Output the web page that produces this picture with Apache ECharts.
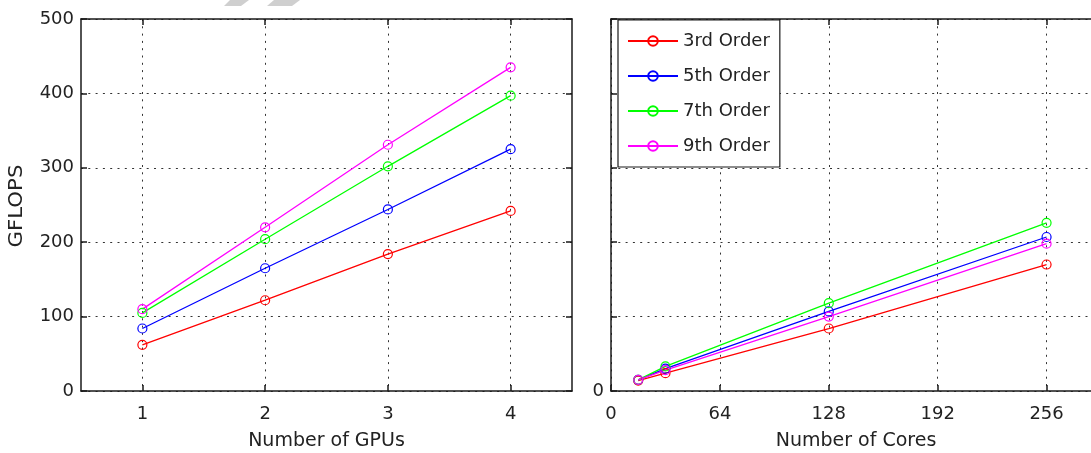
<!DOCTYPE html>
<html>
<head>
<meta charset="utf-8">
<script src="https://cdn.jsdelivr.net/npm/echarts@6/dist/echarts.min.js"></script>
<style>
  html, body { margin: 0; padding: 0; background: #fff; overflow: hidden; }
  #chart { width: 1091px; height: 453px; }
</style>
</head>
<body>
<div id="chart"></div>
<script>
// ---- data ----
const seriesNames = ['3rd Order', '5th Order', '7th Order', '9th Order'];
const seriesColors = ['#ff0000', '#0000ff', '#00ff00', '#ff00ff'];

const gpuCounts = [1, 2, 3, 4];
const gpu3rd = [62, 122, 184, 242];
const gpu5th = [84, 165, 244, 325];
const gpu7th = [105, 204, 302, 397];
const gpu9th = [110, 220, 331, 435];

const coreCounts = [16, 32, 128, 256];
const core3rd = [14, 24, 84, 170];
const core5th = [15, 30, 107, 207];
const core7th = [15, 33, 118, 226];
const core9th = [15, 28, 100, 198];

const gpuTicks = [1, 2, 3, 4];
const yTitle = 'GFLOPS';

const gpuData = [gpu3rd, gpu5th, gpu7th, gpu9th];
const coreData = [core3rd, core5th, core7th, core9th];

// ---- styles ----
const FONT = 'DejaVu Sans';
const axisColor = '#1a1a1a';
const textColor = '#222';
const gridLine = { show: true, lineStyle: { color: '#333', width: 1, type: [2, 5.3] } };

function mirrorAxis(base, extra) {
  return Object.assign({}, base, {
    axisLabel: { show: false },
    splitLine: { show: false },
    name: ''
  }, extra);
}

const grids = [
  { left: 81, top: 19, width: 491, height: 372, outerBoundsMode: 'none', containLabel: false },
  { left: 611, top: 19, width: 490, height: 372, outerBoundsMode: 'none', containLabel: false }
];

const xBase0 = {
  type: 'value', gridIndex: 0, min: 0.5, max: 4.5,
  axisLine: { show: true, onZero: false, lineStyle: { color: axisColor, width: 1.5 } },
  axisTick: { show: true, inside: true, length: 6, customValues: gpuTicks, lineStyle: { color: axisColor, width: 1.5 } },
  axisLabel: { customValues: gpuTicks, fontFamily: FONT, fontSize: 18, color: textColor, margin: 14 },
  splitLine: gridLine,
  name: 'Number of GPUs', nameLocation: 'middle', nameGap: 41,
  nameTextStyle: { fontFamily: FONT, fontSize: 19, color: textColor }
};
const xBase1 = {
  type: 'value', gridIndex: 1, min: 0, max: 288, interval: 64,
  axisLine: { show: true, onZero: false, lineStyle: { color: axisColor, width: 1.5 } },
  axisTick: { show: true, inside: true, length: 6, lineStyle: { color: axisColor, width: 1.5 } },
  axisLabel: { fontFamily: FONT, fontSize: 18, color: textColor, margin: 14, showMaxLabel: false },
  splitLine: gridLine,
  name: 'Number of Cores', nameLocation: 'middle', nameGap: 41,
  nameTextStyle: { fontFamily: FONT, fontSize: 19, color: textColor }
};
const yBase0 = {
  type: 'value', gridIndex: 0, min: 0, max: 500, interval: 100,
  axisLine: { show: true, onZero: false, lineStyle: { color: axisColor, width: 1.5 } },
  axisTick: { show: true, inside: true, length: 6, lineStyle: { color: axisColor, width: 1.5 } },
  axisLabel: { fontFamily: FONT, fontSize: 18, color: textColor, margin: 7 },
  splitLine: gridLine
};
const yBase1 = {
  type: 'value', gridIndex: 1, min: 0, max: 500, interval: 100,
  axisLine: { show: true, onZero: false, lineStyle: { color: axisColor, width: 1.5 } },
  axisTick: { show: true, inside: true, length: 6, lineStyle: { color: axisColor, width: 1.5 } },
  axisLabel: { fontFamily: FONT, fontSize: 18, color: textColor, margin: 7,
               formatter: v => (v === 0 ? '0' : '') },
  splitLine: gridLine
};

const xAxes = [
  Object.assign({ position: 'bottom' }, xBase0),
  mirrorAxis(xBase0, { position: 'top' }),
  Object.assign({ position: 'bottom' }, xBase1),
  mirrorAxis(xBase1, { position: 'top' })
];
const yAxes = [
  Object.assign({ position: 'left' }, yBase0),
  mirrorAxis(yBase0, { position: 'right' }),
  Object.assign({ position: 'left' }, yBase1),
  mirrorAxis(yBase1, { position: 'right' })
];

function makeSeries(xs, ys, idx, xi, yi) {
  const c = seriesColors[idx];
  return {
    type: 'line', name: seriesNames[idx],
    xAxisIndex: xi, yAxisIndex: yi,
    data: xs.map((x, i) => [x, ys[i]]),
    symbol: 'circle', symbolSize: 9,
    lineStyle: { color: c, width: 1.3 },
    itemStyle: { color: 'rgba(255,255,255,0)', borderColor: c, borderWidth: 1.2 },
    emphasis: { disabled: true },
    animation: false,
    z: 3
  };
}

const series = [];
gpuData.forEach((d, i) => series.push(makeSeries(gpuCounts, d, i, 0, 0)));
coreData.forEach((d, i) => series.push(makeSeries(coreCounts, d, i, 2, 2)));

const option = {
  animation: false,
  backgroundColor: '#fff',
  grid: grids,
  xAxis: xAxes,
  yAxis: yAxes,
  legend: {
    data: seriesNames,
    orient: 'vertical',
    left: 618, top: 20,
    backgroundColor: '#fff',
    borderColor: axisColor, borderWidth: 1.2,
    padding: [12, 10, 12, 9],
    itemGap: 17,
    itemWidth: 50, itemHeight: 12,
    textStyle: { fontFamily: FONT, fontSize: 18, color: textColor },
    selectedMode: false,
    z: 10
  },
  graphic: [
    { type: 'polygon', silent: true, shape: { points: [[230, 0], [249, 0], [241, 6], [224, 6]] }, style: { fill: '#cfcfcf' } },
    { type: 'polygon', silent: true, shape: { points: [[274, 0], [300, 0], [292, 6], [267, 6]] }, style: { fill: '#cfcfcf' } },
    { type: 'text', silent: true, x: 17, y: 206, rotation: Math.PI / 2, scaleX: 1.12, scaleY: 1,
      style: { text: yTitle, fontFamily: FONT, fontSize: 19, fill: textColor,
               textAlign: 'center', textVerticalAlign: 'middle' } }
  ],
  series: series
};

const chart = echarts.init(document.getElementById('chart'), null, { renderer: 'canvas' });
chart.setOption(option);
</script>
</body>
</html>
